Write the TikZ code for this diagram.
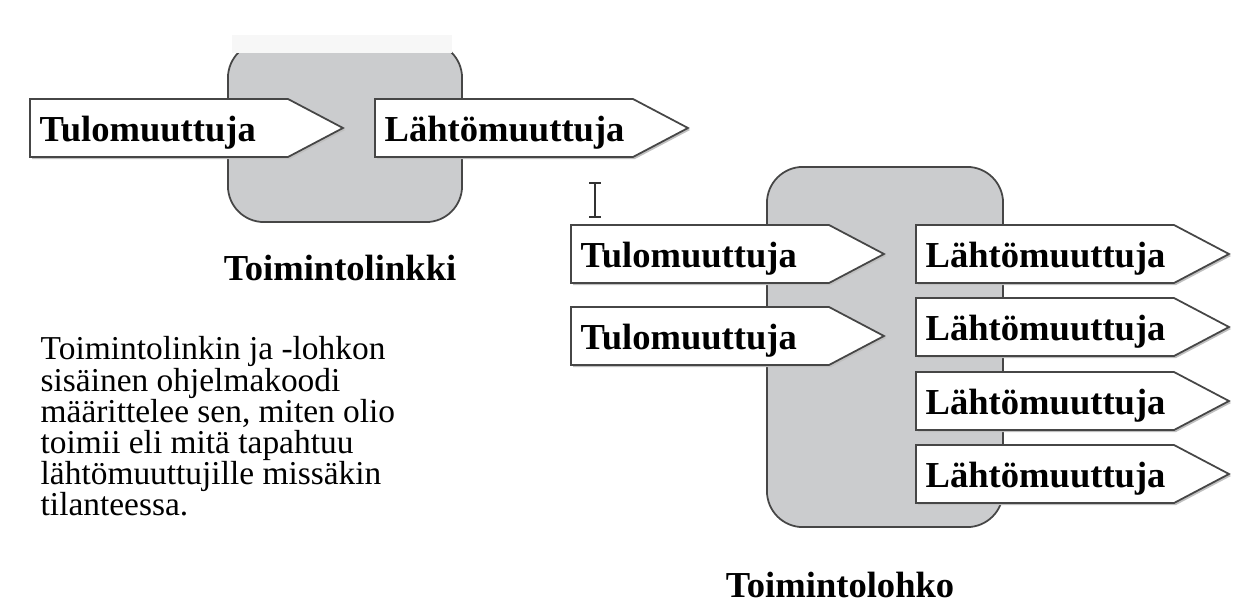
\documentclass[tikz,border=0pt]{standalone}
\usepackage{fontspec}
\setmainfont{Liberation Serif}
\definecolor{boxgray}{RGB}{203,204,206}
\definecolor{edgegray}{RGB}{70,70,70}

\begin{document}
\begin{tikzpicture}[x=0.01cm, y=-0.01cm,
    block/.style={draw=edgegray, fill=boxgray, rounded corners=0.36cm, line width=0.5pt, inner sep=0pt},
    tag/.style={draw=edgegray, fill=white, line width=0.5pt},
    tagshadow/.style={fill=black!25},
    lbl/.style={font=\bfseries\fontsize{10.4}{12}\selectfont, anchor=base west, inner sep=0pt},
    caption/.style={font=\bfseries\fontsize{10.4}{12}\selectfont, inner sep=0pt}]
    \useasboundingbox (0,0) rectangle (1237,603);
    \def\tagw{258}
    \def\tagp{55}
    \def\tagh{58}

    % harmaat laatikot
    \node[block, minimum width=2.34cm, minimum height=1.80cm] (linkki) at (345,132) {};
    \node[block, minimum width=2.36cm, minimum height=3.60cm] (lohko) at (885,347) {};
    \fill[black!3] (232,35) rectangle (452,53);

    % muuttujat
    \foreach \x/\y/\txt/\nimi in {30/99/Tulomuuttuja/tulo1, 375/99/Lähtömuuttuja/lahto1,
        571/225/Tulomuuttuja/tulo2, 571/307/Tulomuuttuja/tulo3,
        916/225/Lähtömuuttuja/lahto2, 916/298/Lähtömuuttuja/lahto3,
        916/372/Lähtömuuttuja/lahto4, 916/445/Lähtömuuttuja/lahto5} {
        \fill[tagshadow] (\x+2,\y+2) -- ++(\tagw,0) -- ++(\tagp,\tagh/2) -- ++(-\tagp,\tagh/2) -- ++(-\tagw,0) -- cycle;
        \draw[tag] (\x,\y) -- ++(\tagw,0) -- ++(\tagp,\tagh/2) -- ++(-\tagp,\tagh/2) -- ++(-\tagw,0) -- cycle;
        \node[lbl] (\nimi) at (\x+9,\y+42) {\txt};
    }

    \node[caption] (linkkiteksti) at (340,268) {Toimintolinkki};
    \node[caption] (lohkoteksti) at (840,585) {Toimintolohko};

    \node[anchor=north west, align=left, inner sep=0pt, font=\fontsize{9.5}{8.85}\selectfont] (selitys) at (40,336)
        {Toimintolinkin ja -lohkon\\ sisäinen ohjelmakoodi\\ määrittelee sen, miten olio\\ toimii eli mitä tapahtuu\\ lähtömuuttujille missäkin\\ tilanteessa.};

    % kursori
    \draw[black!80, line width=0.6pt] (595,183) -- (595,217) (589,183) -- (601,183) (589,217) -- (601,217);
\end{tikzpicture}
\end{document}
